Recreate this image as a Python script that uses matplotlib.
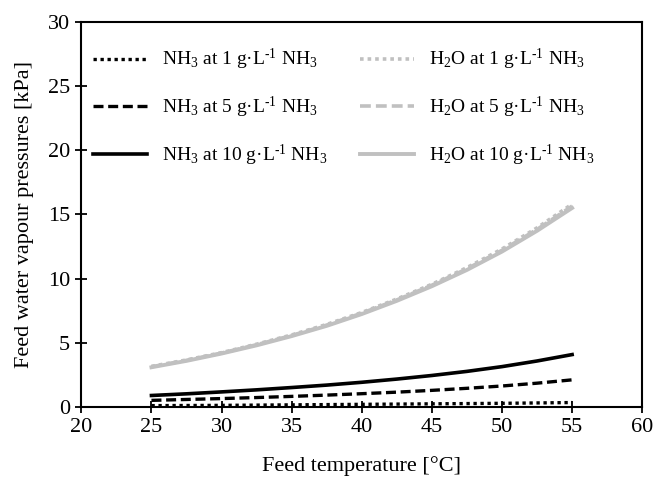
import matplotlib
matplotlib.use('Agg')
import matplotlib.pyplot as plt

plt.rcParams['font.family'] = ['Liberation Serif', 'DejaVu Serif']
plt.rcParams['mathtext.fontset'] = 'custom'
plt.rcParams['mathtext.rm'] = 'Liberation Serif'
plt.rcParams['mathtext.it'] = 'Liberation Serif:italic'

# feed temperature [°C]
temp = [25, 27.5, 30, 32.5, 35, 37.5, 40, 42.5, 45, 47.5, 50, 52.5, 55]

# NH3 partial pressures [kPa]
nh3_1 = [0.09, 0.10, 0.11, 0.13, 0.15, 0.17, 0.19, 0.21, 0.23, 0.25, 0.27, 0.30, 0.33]
nh3_5 = [0.50, 0.57, 0.64, 0.72, 0.81, 0.91, 1.02, 1.14, 1.28, 1.44, 1.62, 1.84, 2.10]
nh3_10 = [0.88, 1.01, 1.16, 1.32, 1.50, 1.69, 1.91, 2.16, 2.44, 2.76, 3.13, 3.57, 4.07]

# H2O partial pressures [kPa]
h2o_1 = [3.15, 3.65, 4.22, 4.88, 5.60, 6.42, 7.35, 8.40, 9.55, 10.85, 12.30, 13.95, 15.80]
h2o_5 = [3.12, 3.62, 4.19, 4.84, 5.56, 6.37, 7.30, 8.33, 9.48, 10.76, 12.20, 13.83, 15.65]
h2o_10 = [3.08, 3.58, 4.15, 4.79, 5.51, 6.31, 7.23, 8.26, 9.40, 10.67, 12.10, 13.72, 15.50]

sup = '$^{\\text{-1}}$'

fig, ax = plt.subplots(figsize=(6.56, 4.78), dpi=100)

ax.plot(temp, nh3_1, color='black', linestyle=(0, (1, 1.1)), lw=2.4,
        label='NH$_3$ at 1 g·L' + sup + ' NH$_3$')
ax.plot(temp, nh3_5, color='black', linestyle=(0, (3, 1.4)), lw=2.4,
        label='NH$_3$ at 5 g·L' + sup + ' NH$_3$')
ax.plot(temp, nh3_10, color='black', linestyle='-', lw=2.6,
        label='NH$_3$ at 10 g·L' + sup + ' NH$_3$')
ax.plot(temp, h2o_1, color='#c0c0c0', linestyle=(0, (1, 1.1)), lw=2.6,
        label='H$_2$O at 1 g·L' + sup + ' NH$_3$')
ax.plot(temp, h2o_5, color='#c0c0c0', linestyle=(0, (3, 1.4)), lw=2.6,
        label='H$_2$O at 5 g·L' + sup + ' NH$_3$')
ax.plot(temp, h2o_10, color='#c0c0c0', linestyle='-', lw=2.8,
        label='H$_2$O at 10 g·L' + sup + ' NH$_3$')

ax.set_xlim(20, 60)
ax.set_ylim(0, 30)
ax.set_xticks(range(20, 61, 5))
ax.set_yticks(range(0, 31, 5))
ax.tick_params(direction='inout', length=9, width=1.3, labelsize=16)
for s in ax.spines.values():
    s.set_linewidth(1.5)

ax.set_xlabel('Feed temperature [°C]', fontsize=16, labelpad=14)
ax.set_ylabel('Feed water vapour pressures [kPa]', fontsize=16, labelpad=10)

ax.legend(loc='upper left', ncol=2, frameon=False, fontsize=14,
          handlelength=2.75, handletextpad=0.78, columnspacing=1.7,
          labelspacing=1.15, bbox_to_anchor=(-0.01, 0.98))

plt.subplots_adjust(left=0.124, right=0.979, top=0.954, bottom=0.149)
plt.savefig('out.png', dpi=100)
